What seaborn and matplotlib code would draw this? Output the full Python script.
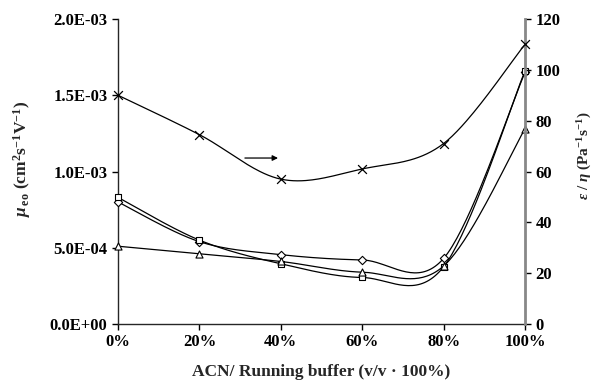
import numpy as np
import pandas as pd
import matplotlib
matplotlib.use("Agg")
import matplotlib.pyplot as plt
import seaborn as sns

# ---- data ----
acn_pct = [0, 20, 40, 60, 80, 100]
x_tick_labels = ["0%", "20%", "40%", "60%", "80%", "100%"]
mu_diamond = [8.0e-4, 5.4e-4, 4.55e-4, 4.2e-4, 4.3e-4, 1.65e-3]
mu_square = [8.3e-4, 5.5e-4, 3.95e-4, 3.05e-4, 3.75e-4, 1.66e-3]
mu_triangle = [5.1e-4, 4.6e-4, 4.1e-4, 3.4e-4, 3.8e-4, 1.28e-3]
eps_eta = [90, 74.5, 57, 61, 71, 110]
left_ticks = [0, 5e-4, 1e-3, 1.5e-3, 2e-3]
left_tick_labels = ["0.0E+00", "5.0E-04", "1.0E-03", "1.5E-03", "2.0E-03"]
right_ticks = [0, 20, 40, 60, 80, 100, 120]

sns.set_style("ticks")
plt.rcParams['font.family'] = ['Liberation Serif', 'DejaVu Serif']
plt.rcParams['font.weight'] = 'bold'
plt.rcParams['mathtext.fontset'] = 'custom'
plt.rcParams['mathtext.rm'] = 'Liberation Serif:bold'
plt.rcParams['mathtext.it'] = 'Liberation Serif:italic:bold'
plt.rcParams['mathtext.bf'] = 'Liberation Serif:bold'


def smooth(x, y, n=40, k=1/6):
    pts = np.column_stack([x, y]).astype(float)
    xs, ys = [], []
    m = len(pts)
    for i in range(m - 1):
        p0, p3 = pts[i], pts[i + 1]
        prev = pts[i - 1] if i > 0 else pts[i]
        nxt = pts[i + 2] if i + 2 < m else pts[i + 1]
        c1 = p0 + (p3 - prev) * k
        c2 = p3 - (nxt - p0) * k
        t = np.linspace(0, 1, n)[:, None]
        seg = ((1 - t) ** 3) * p0 + 3 * ((1 - t) ** 2) * t * c1 + 3 * (1 - t) * t ** 2 * c2 + t ** 3 * p3
        xs.extend(seg[:, 0]); ys.extend(seg[:, 1])
    return np.array(xs), np.array(ys)


fig = plt.figure(figsize=(5.98, 3.88), dpi=100)
ax = fig.add_axes([118/598, 1 - 324/388, (525-118)/598, (324-19)/388])
ax2 = ax.twinx()

for vals, mk, sz in [(mu_diamond, 'D', 18), (mu_square, 's', 24), (mu_triangle, '^', 26)]:
    sx, sy = smooth(acn_pct, vals)
    sns.lineplot(x=sx, y=sy, ax=ax, color='black', lw=0.9, sort=False, estimator=None)
    sns.scatterplot(x=acn_pct, y=vals, ax=ax, marker=mk, s=sz, facecolor='white',
                    edgecolor='black', linewidth=0.8, clip_on=False, zorder=5)

sx, sy = smooth(acn_pct, eps_eta)
sns.lineplot(x=sx, y=sy, ax=ax2, color='black', lw=0.9, sort=False, estimator=None)
sns.scatterplot(x=acn_pct, y=eps_eta, ax=ax2, marker='x', s=40, color='black',
                linewidth=0.9, clip_on=False, zorder=5)
ax2.annotate('', xy=(40, 65.3), xytext=(30.5, 65.3),
             arrowprops=dict(arrowstyle='-|>', color='black', lw=0.9, mutation_scale=8))

ax.set_xlim(0, 100)
ax.set_ylim(0, 2e-3)
ax2.set_ylim(0, 120)
ax.set_xticks(acn_pct)
ax.set_xticklabels(x_tick_labels)
ax.set_yticks(left_ticks)
ax.set_yticklabels(left_tick_labels)
ax2.set_yticks(right_ticks)
ax2.set_yticklabels([str(v) for v in right_ticks])

for a in (ax, ax2):
    a.tick_params(direction='out', length=4, width=1, labelsize=12, colors='black')
    a.spines['top'].set_visible(False)
ax.spines['right'].set_visible(False)
ax2.spines['left'].set_visible(False)
ax2.spines['bottom'].set_visible(False)
ax2.spines['right'].set_color('#888888')
ax2.spines['right'].set_linewidth(2)
ax.spines['left'].set_linewidth(1)
ax.spines['bottom'].set_linewidth(1)
for lab in ax.get_xticklabels() + ax.get_yticklabels() + ax2.get_yticklabels():
    lab.set_fontweight('bold')

ax.set_xlabel('ACN/ Running buffer (v/v · 100%)', fontsize=12.5, fontweight='bold')
ax.set_ylabel(r'$\mu_{\,\rm eo}$ (cm$^{2}$s$^{-1}$V$^{-1}$)', fontsize=12.5, fontweight='bold')
ax2.set_ylabel(r'$\varepsilon$ / $\eta$ (Pa$^{-1}$s$^{-1}$)', fontsize=11, fontweight='bold')
ax.xaxis.set_label_coords(0.5, -0.13)
ax.yaxis.set_label_coords(-0.21, 0.54)
ax2.yaxis.set_label_coords(1.125, 0.55)

fig.savefig('out.png', dpi=100)
